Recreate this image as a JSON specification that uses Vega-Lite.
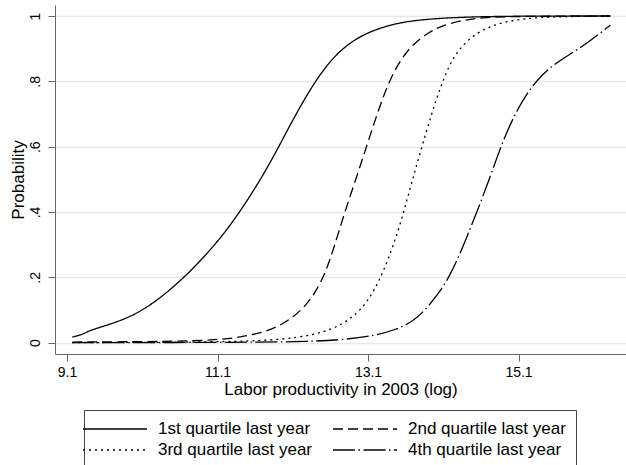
{
  "$schema": "https://vega.github.io/schema/vega-lite/v6.json",
  "width": 571,
  "height": 349,
  "autosize": "none",
  "padding": {"left": 55, "top": 5, "right": 0, "bottom": 111},
  "background": "white",
  "config": {"view": {"stroke": null}, "font": "Liberation Sans"},
  "datasets": {
    "curves": [
      {"series": "1st quartile last year", "x": 9.17, "y": 0.017},
      {"series": "1st quartile last year", "x": 9.25, "y": 0.022},
      {"series": "1st quartile last year", "x": 9.32, "y": 0.027},
      {"series": "1st quartile last year", "x": 9.4, "y": 0.037},
      {"series": "1st quartile last year", "x": 9.47, "y": 0.042},
      {"series": "1st quartile last year", "x": 9.58, "y": 0.05},
      {"series": "1st quartile last year", "x": 9.69, "y": 0.058},
      {"series": "1st quartile last year", "x": 9.89, "y": 0.075},
      {"series": "1st quartile last year", "x": 10.05, "y": 0.093},
      {"series": "1st quartile last year", "x": 10.27, "y": 0.125},
      {"series": "1st quartile last year", "x": 10.49, "y": 0.166},
      {"series": "1st quartile last year", "x": 10.71, "y": 0.212},
      {"series": "1st quartile last year", "x": 10.93, "y": 0.265},
      {"series": "1st quartile last year", "x": 11.16, "y": 0.326},
      {"series": "1st quartile last year", "x": 11.38, "y": 0.395},
      {"series": "1st quartile last year", "x": 11.62, "y": 0.48},
      {"series": "1st quartile last year", "x": 11.84, "y": 0.567},
      {"series": "1st quartile last year", "x": 12.06, "y": 0.665},
      {"series": "1st quartile last year", "x": 12.29, "y": 0.76},
      {"series": "1st quartile last year", "x": 12.51, "y": 0.838},
      {"series": "1st quartile last year", "x": 12.73, "y": 0.895},
      {"series": "1st quartile last year", "x": 12.95, "y": 0.932},
      {"series": "1st quartile last year", "x": 13.17, "y": 0.956},
      {"series": "1st quartile last year", "x": 13.39, "y": 0.972},
      {"series": "1st quartile last year", "x": 13.61, "y": 0.983},
      {"series": "1st quartile last year", "x": 13.92, "y": 0.991},
      {"series": "1st quartile last year", "x": 14.3, "y": 0.996},
      {"series": "1st quartile last year", "x": 14.8, "y": 0.999},
      {"series": "1st quartile last year", "x": 15.5, "y": 1.0},
      {"series": "1st quartile last year", "x": 16.32, "y": 1.0},

      {"series": "2nd quartile last year", "x": 9.17, "y": 0.002},
      {"series": "2nd quartile last year", "x": 10.0, "y": 0.003},
      {"series": "2nd quartile last year", "x": 10.7, "y": 0.005},
      {"series": "2nd quartile last year", "x": 11.16, "y": 0.01},
      {"series": "2nd quartile last year", "x": 11.4, "y": 0.017},
      {"series": "2nd quartile last year", "x": 11.66, "y": 0.029},
      {"series": "2nd quartile last year", "x": 11.89, "y": 0.047},
      {"series": "2nd quartile last year", "x": 12.11, "y": 0.078},
      {"series": "2nd quartile last year", "x": 12.29, "y": 0.118},
      {"series": "2nd quartile last year", "x": 12.42, "y": 0.162},
      {"series": "2nd quartile last year", "x": 12.53, "y": 0.212},
      {"series": "2nd quartile last year", "x": 12.64, "y": 0.285},
      {"series": "2nd quartile last year", "x": 12.77, "y": 0.385},
      {"series": "2nd quartile last year", "x": 12.93, "y": 0.495},
      {"series": "2nd quartile last year", "x": 13.08, "y": 0.6},
      {"series": "2nd quartile last year", "x": 13.22, "y": 0.7},
      {"series": "2nd quartile last year", "x": 13.37, "y": 0.796},
      {"series": "2nd quartile last year", "x": 13.53, "y": 0.866},
      {"series": "2nd quartile last year", "x": 13.7, "y": 0.915},
      {"series": "2nd quartile last year", "x": 13.92, "y": 0.952},
      {"series": "2nd quartile last year", "x": 14.08, "y": 0.97},
      {"series": "2nd quartile last year", "x": 14.35, "y": 0.987},
      {"series": "2nd quartile last year", "x": 14.61, "y": 0.995},
      {"series": "2nd quartile last year", "x": 15.0, "y": 0.999},
      {"series": "2nd quartile last year", "x": 16.32, "y": 1.0},

      {"series": "3rd quartile last year", "x": 9.17, "y": 0.0005},
      {"series": "3rd quartile last year", "x": 10.5, "y": 0.001},
      {"series": "3rd quartile last year", "x": 11.4, "y": 0.004},
      {"series": "3rd quartile last year", "x": 11.93, "y": 0.009},
      {"series": "3rd quartile last year", "x": 12.37, "y": 0.023},
      {"series": "3rd quartile last year", "x": 12.64, "y": 0.043},
      {"series": "3rd quartile last year", "x": 12.86, "y": 0.071},
      {"series": "3rd quartile last year", "x": 13.04, "y": 0.11},
      {"series": "3rd quartile last year", "x": 13.17, "y": 0.155},
      {"series": "3rd quartile last year", "x": 13.3, "y": 0.215},
      {"series": "3rd quartile last year", "x": 13.44, "y": 0.3},
      {"series": "3rd quartile last year", "x": 13.57, "y": 0.395},
      {"series": "3rd quartile last year", "x": 13.68, "y": 0.49},
      {"series": "3rd quartile last year", "x": 13.81, "y": 0.595},
      {"series": "3rd quartile last year", "x": 13.95, "y": 0.705},
      {"series": "3rd quartile last year", "x": 14.06, "y": 0.78},
      {"series": "3rd quartile last year", "x": 14.17, "y": 0.845},
      {"series": "3rd quartile last year", "x": 14.3, "y": 0.897},
      {"series": "3rd quartile last year", "x": 14.52, "y": 0.947},
      {"series": "3rd quartile last year", "x": 14.83, "y": 0.979},
      {"series": "3rd quartile last year", "x": 15.19, "y": 0.993},
      {"series": "3rd quartile last year", "x": 15.6, "y": 0.998},
      {"series": "3rd quartile last year", "x": 16.32, "y": 1.0},

      {"series": "4th quartile last year", "x": 9.17, "y": 0.0},
      {"series": "4th quartile last year", "x": 11.5, "y": 0.001},
      {"series": "4th quartile last year", "x": 12.29, "y": 0.003},
      {"series": "4th quartile last year", "x": 12.82, "y": 0.01},
      {"series": "4th quartile last year", "x": 13.17, "y": 0.021},
      {"series": "4th quartile last year", "x": 13.48, "y": 0.04},
      {"series": "4th quartile last year", "x": 13.7, "y": 0.066},
      {"series": "4th quartile last year", "x": 13.86, "y": 0.1},
      {"series": "4th quartile last year", "x": 14.03, "y": 0.148},
      {"series": "4th quartile last year", "x": 14.17, "y": 0.198},
      {"series": "4th quartile last year", "x": 14.3, "y": 0.26},
      {"series": "4th quartile last year", "x": 14.43, "y": 0.333},
      {"series": "4th quartile last year", "x": 14.57, "y": 0.414},
      {"series": "4th quartile last year", "x": 14.7, "y": 0.493},
      {"series": "4th quartile last year", "x": 14.81, "y": 0.565},
      {"series": "4th quartile last year", "x": 14.92, "y": 0.632},
      {"series": "4th quartile last year", "x": 15.05, "y": 0.698},
      {"series": "4th quartile last year", "x": 15.19, "y": 0.756},
      {"series": "4th quartile last year", "x": 15.36, "y": 0.808},
      {"series": "4th quartile last year", "x": 15.54, "y": 0.846},
      {"series": "4th quartile last year", "x": 15.72, "y": 0.874},
      {"series": "4th quartile last year", "x": 15.94, "y": 0.906},
      {"series": "4th quartile last year", "x": 16.07, "y": 0.928},
      {"series": "4th quartile last year", "x": 16.21, "y": 0.952},
      {"series": "4th quartile last year", "x": 16.32, "y": 0.972}
    ]
  },
  "data": {"name": "curves"},
  "mark": {"type": "line", "color": "black", "strokeWidth": 1.3, "interpolate": "basis", "clip": true},
  "encoding": {
    "x": {
      "field": "x", "type": "quantitative",
      "scale": {"domain": [8.9405, 16.528], "nice": false, "zero": false},
      "axis": {
        "values": [9.1, 11.1, 13.1, 15.1], "format": ".1f",
        "title": "Labor productivity in 2003 (log)",
        "grid": false, "domainColor": "#666", "tickColor": "#666", "tickSize": 7,
        "labelFontSize": 14, "labelColor": "black", "labelPadding": 4,
        "titleFontSize": 17, "titleFontWeight": "normal", "titleColor": "black", "titlePadding": 2
      }
    },
    "y": {
      "field": "y", "type": "quantitative",
      "scale": {"domain": [-0.0346, 1.0337], "nice": false, "zero": false},
      "axis": {
        "values": [0, 0.2, 0.4, 0.6, 0.8, 1],
        "labelExpr": "datum.value == 0 ? '0' : datum.value == 1 ? '1' : replace(format(datum.value, '.1f'), '0.', '.')",
        "title": "Probability",
        "grid": true, "gridColor": "#e8e8e8", "gridWidth": 1.5,
        "domainColor": "#666", "tickColor": "#666", "tickSize": 7,
        "labelAngle": -90, "labelAlign": "center", "labelBaseline": "bottom",
        "labelFontSize": 14, "labelColor": "black", "labelPadding": 6,
        "titleFontSize": 17, "titleFontWeight": "normal", "titleColor": "black", "titlePadding": 1
      }
    },
    "strokeDash": {
      "field": "series", "type": "nominal",
      "scale": {
        "domain": ["1st quartile last year", "2nd quartile last year", "3rd quartile last year", "4th quartile last year"],
        "range": [[1, 0], [10, 5], [2, 4], [22, 3.5, 1.5, 3.5]]
      },
      "legend": {
        "orient": "none", "legendX": 29, "legendY": 405,
        "direction": "horizontal", "columns": 2, "title": null,
        "symbolType": "M-4,0H4", "symbolSize": 256, "symbolStrokeWidth": 1.3,
        "symbolStrokeColor": "black", "symbolFillColor": "transparent",
        "symbolOffset": 12, "labelOffset": 34,
        "labelFontSize": 17, "labelColor": "black", "labelLimit": 400,
        "strokeColor": "#444", "padding": 10, "rowPadding": 4, "columnPadding": 17,
        "gridAlign": "each"
      }
    }
  }
}
